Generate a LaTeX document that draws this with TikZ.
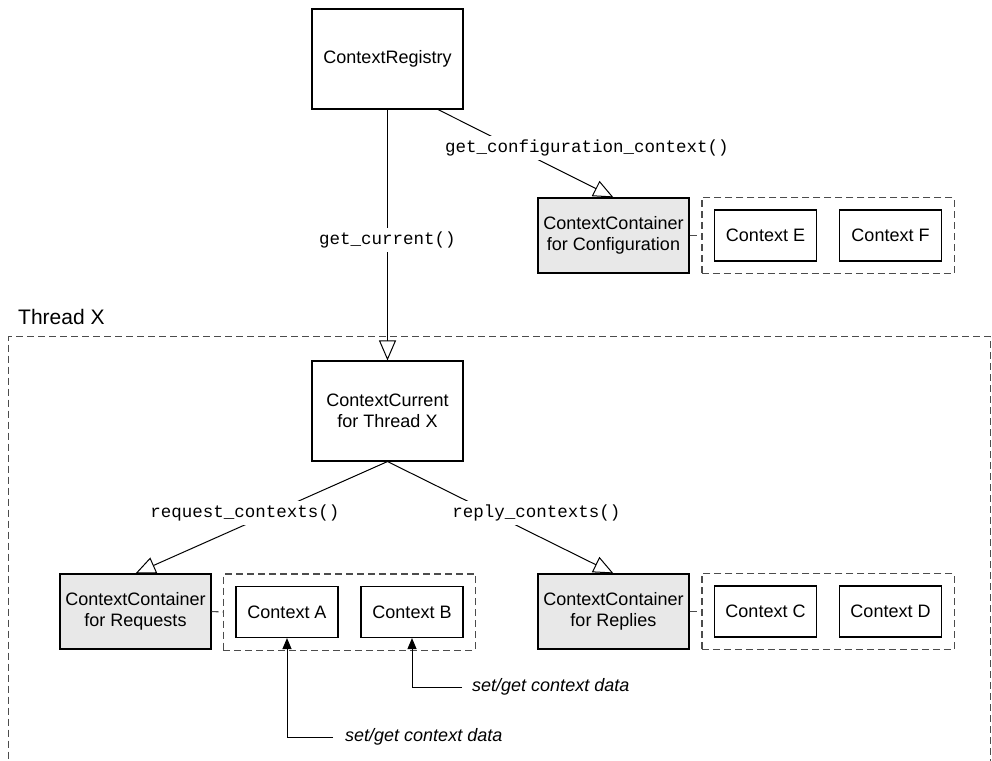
\documentclass[tikz,border=0pt]{standalone}
\usepackage{fontspec}
\setmainfont{Liberation Sans}
\newfontfamily\monof{Liberation Mono}
\usetikzlibrary{arrows.meta,fit,calc}
\begin{document}
\begin{tikzpicture}[x=1pt,y=-1pt,
 box/.style={draw=black, line width=1.1pt, fill=white, align=center, inner sep=0pt, font=\fontsize{18}{21.5}\selectfont},
 bigbox/.style={box, minimum width=151pt, minimum height=100pt},
 cont/.style={box, fill=black!9, minimum width=151pt, minimum height=75pt},
 ctx/.style={box, minimum width=102pt, minimum height=51pt},
 grp/.style={draw=black!70, line width=1.1pt, dash pattern=on 7pt off 4pt},
 grpbox/.style={grp, inner sep=12pt},
 conn/.style={draw, line width=1pt, -{Triangle[open, length=20pt, width=17pt, line width=1pt]}},
 fillarr/.style={draw, line width=1pt, -{Triangle[length=11pt, width=9pt]}},
 lbl/.style={fill=white, font=\monof\fontsize{17.5}{20}\selectfont, inner sep=2pt, minimum height=24pt},
 note/.style={font=\itshape\fontsize{18}{21}\selectfont, inner sep=0pt, anchor=west},
]
\useasboundingbox (0,0) rectangle (992,760);

% Thread X frame
\node (thread) [grp, anchor=north west, minimum width=982pt, minimum height=470pt, inner sep=0pt] at (8,336) {};
\node (threadlbl) [anchor=west, inner sep=0pt, font=\fontsize{21}{24}\selectfont] at (18,317) {Thread X};

% main boxes
\node (reg) [bigbox] at (387.5,59) {ContextRegistry};
\node (cur) [bigbox] at (387.5,411) {ContextCurrent\\for Thread X};

% configuration
\node (cfgc) [cont] at (613.5,235.5) {ContextContainer\\for Configuration};
\node (ctxE) [ctx] at (765.5,235.5) {Context E};
\node (ctxF) [ctx] at (890.5,235.5) {Context F};
\node (cfggrp) [grpbox, fit=(ctxE)(ctxF)] {};
\draw[grp] (cfgc.east) -- (cfggrp.west);

% requests
\node (reqc) [cont] at (135.5,611.5) {ContextContainer\\for Requests};
\node (ctxA) [ctx] at (287,612) {Context A};
\node (ctxB) [ctx] at (412,612) {Context B};
\node (reqgrp) [grpbox, fit=(ctxA)(ctxB)] {};
\draw[grp] (reqc.east) -- (reqgrp.west);

% replies
\node (repc) [cont] at (613.5,611.5) {ContextContainer\\for Replies};
\node (ctxC) [ctx] at (765.5,611.5) {Context C};
\node (ctxD) [ctx] at (890.5,611.5) {Context D};
\node (repgrp) [grpbox, fit=(ctxC)(ctxD)] {};
\draw[grp] (repc.east) -- (repgrp.west);

% connectors
\draw[conn] (reg.south) -- (cur.north);
\draw[conn] ($(reg.south)+(50.5,0)$) -- (cfgc.north);
\draw[conn] (cur.south) -- (reqc.north);
\draw[conn] (cur.south) -- (repc.north);

\node (lcur) [lbl] at (387.5,240) {get\_current()};
\node (lcfg) [lbl, anchor=west] at (443,148) {get\_configuration\_context()};
\node (lreq) [lbl] at (245,513) {request\_contexts()};
\node (lrep) [lbl] at (536.5,513) {reply\_contexts()};

% set/get notes
\node (noteA) [note] at (345,737) {set/get context data};
\node (noteB) [note] at (472,687) {set/get context data};
\draw[fillarr] ([xshift=-12pt]noteA.west) -| (ctxA.south);
\draw[fillarr] ([xshift=-10pt]noteB.west) -| (ctxB.south);
\end{tikzpicture}
\end{document}
